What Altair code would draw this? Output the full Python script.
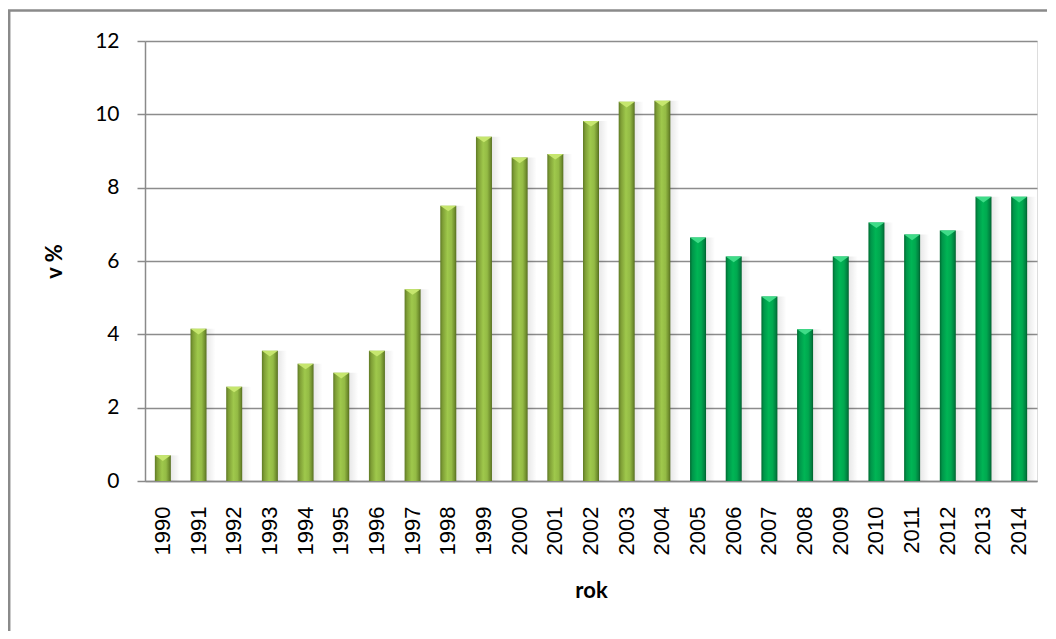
import altair as alt
import pandas as pd

years = [str(y) for y in range(1990, 2015)]
values = [0.7, 4.15, 2.57, 3.55, 3.2, 2.95, 3.55, 5.23, 7.51, 9.39, 8.82, 8.92,
          9.82, 10.34, 10.37, 6.64, 6.12, 5.03, 4.14, 6.12, 7.05, 6.72, 6.83, 7.75, 7.75]
groups = ["a"] * 15 + ["b"] * 10

df = pd.DataFrame({"rok": years, "v": values, "g": groups})

W, H = 892, 440

x = alt.X("rok:N", sort=years, title="rok",
          scale=alt.Scale(paddingInner=0, paddingOuter=0),
          axis=alt.Axis(labelAngle=270, ticks=False, labelPadding=25,
                        labelFont="Liberation Sans", labelFontSize=22,
                        labelColor="#000", domainColor="#8a8a8a", domainWidth=1.5,
                        titleFont="Lato", titleFontWeight="bold", titleFontSize=22,
                        titleColor="#000", titlePadding=26))
y = alt.Y("v:Q", title="v %",
          scale=alt.Scale(domain=[0, 12], nice=False),
          axis=alt.Axis(values=[0, 2, 4, 6, 8, 10, 12], tickSize=8, tickWidth=1.5,
                        tickColor="#8a8a8a", domainColor="#8a8a8a", domainWidth=1.5,
                        gridColor="#8c8c8c", gridWidth=1.3,
                        labelFont="Lato", labelFontSize=21, labelColor="#000",
                        labelPadding=18,
                        titleFont="Lato", titleFontWeight="bold", titleFontSize=22,
                        titleColor="#000", titlePadding=28))

def grad(stops):
    return alt.LinearGradient(gradient="linear", x1=0, x2=1, y1=0, y2=0,
                              stops=[alt.GradientStop(color=c, offset=o) for o, c in stops])

olive = grad([(0, "#5f7a25"), (0.15, "#7f9f36"), (0.45, "#9fc84c"), (0.7, "#94bb45"), (0.9, "#6f8d2d"), (1, "#556d20")])
green = grad([(0, "#006b31"), (0.15, "#00964a"), (0.45, "#00b555"), (0.7, "#00a84f"), (0.9, "#008040"), (1, "#00602c")])
shadow = grad([(0, "rgba(0,0,0,0.10)"), (1, "rgba(0,0,0,0)")])

base = alt.Chart(df)

shadow_bars = base.mark_bar(size=10, xOffset=12, color=shadow).encode(x=x, y=y)
bars_a = base.transform_filter(alt.datum.g == "a").mark_bar(size=16, color=olive).encode(x=x, y=y)
bars_b = base.transform_filter(alt.datum.g == "b").mark_bar(size=16, color=green).encode(x=x, y=y)

cap_shape = "M-1,0 L1,0 L0,0.7 Z"
caps_a = base.transform_filter(alt.datum.g == "a").mark_point(
    shape=cap_shape, size=256, filled=True, opacity=1, color="#c6e66e", strokeWidth=0
).encode(x=x, y=y)
caps_b = base.transform_filter(alt.datum.g == "b").mark_point(
    shape=cap_shape, size=256, filled=True, opacity=1, color="#3fdc88", strokeWidth=0
).encode(x=x, y=y)

one = alt.Chart(pd.DataFrame({"k": [0]}))
frame_left = one.mark_rule(color="#8a8a8a", strokeWidth=2.5).encode(
    x=alt.value(-135.8), y=alt.value(-30.5), y2=alt.value(700))
frame_top = one.mark_rule(color="#8a8a8a", strokeWidth=2.5).encode(
    x=alt.value(-137), x2=alt.value(1100), y=alt.value(-30.5))

chart = alt.layer(shadow_bars, bars_a, bars_b, caps_a, caps_b, frame_left, frame_top).properties(
    width=W, height=H,
    autosize=alt.AutoSizeParams(type="none"),
    padding={"left": 137, "top": 33, "right": 10, "bottom": 150},
).configure_view(stroke=None).configure(background="white")

chart.save("out.html", embed_options={"renderer": "svg", "actions": False})
